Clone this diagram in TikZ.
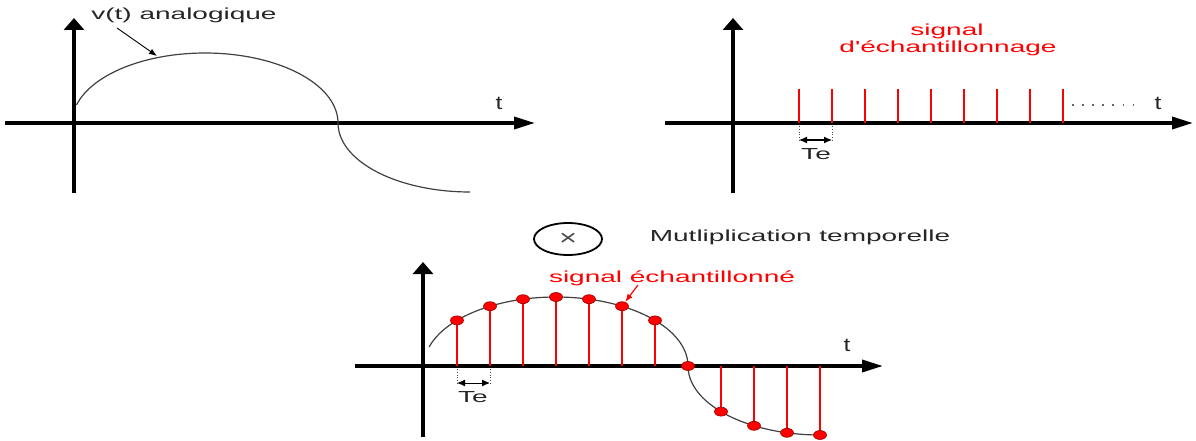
\documentclass[tikz,border=0pt]{standalone}
\usepackage{fontspec}
\setmainfont{Liberation Sans}
\usepackage{graphicx}
\usetikzlibrary{arrows.meta,shapes.geometric}
\newcommand{\sx}[1]{\scalebox{1.75}[1]{#1}}
\begin{document}
\begin{tikzpicture}[x=1pt,y=-1pt,
  axis/.style={line width=3.5pt, black},
  haxis/.style={axis,-{Triangle[length=21pt,width=12pt]}},
  vaxis/.style={axis,-{Triangle[length=12pt,width=20pt]}},
  curve/.style={line width=1.2pt, black!75},
  stem/.style={line width=1.8pt, red},
  sample/.style={ellipse, fill=red, draw=red!60!black, line width=0.6pt, minimum width=13pt, minimum height=9pt, inner sep=0pt},
  lbl/.style={font=\fontsize{16}{18}\selectfont, text=black!85, inner sep=0pt},
  tlbl/.style={font=\fontsize{19}{21}\selectfont, text=black!85, inner sep=0pt},
  rlbl/.style={lbl, text=red},
  guide/.style={dotted, line width=0.8pt, black!70},
  period/.style={{Latex[length=8pt,width=7pt]}-{Latex[length=8pt,width=7pt]}, line width=1pt},
  pointer/.style={-{Latex[length=8pt,width=6pt]}, line width=0.9pt}
  ]
\useasboundingbox (0,0) rectangle (1196,441);

% ---------- panel 1 : analog signal ----------
\draw[haxis] (5,123) -- (535,123);
\draw[vaxis] (74,193) -- (74,18);
\draw[curve] plot[domain=165:0,samples=80] ({205+133*cos(\x)},{123-70*sin(\x)})
  -- plot[domain=180:270,samples=50] ({470+132*cos(\x)},{123-69*sin(\x)});
\node[tlbl] (t1) at (499,103) {\scalebox{1.3}[1]{t}};
\node[lbl] (vlab) at (184,15) {\sx{v(t) analogique}};
\coordinate (vfrom) at (117,28);
\coordinate (vpt) at (157,56);
\draw[pointer] (vfrom) -- (vpt);

% ---------- panel 2 : sampling signal ----------
\draw[haxis] (665,123) -- (1193,123);
\draw[vaxis] (733,193) -- (733,18);
\foreach \k in {0,...,8} \draw[stem] ({799+33*\k},123) -- ({799+33*\k},89);
\draw[dash pattern=on 1.6pt off 8.5pt, line width=1.4pt, black!60] (1072,105) -- (1136,105);
\node[tlbl] (t2) at (1158,103) {\scalebox{1.3}[1]{t}};
\node[rlbl] (sig1) at (947,31) {\sx{signal}};
\node[rlbl] (sig2) at (948,48) {\sx{d\textquotesingle échantillonnage}};
\coordinate (a1) at (799,126); \coordinate (a1b) at (799,141);
\coordinate (a2) at (832,126); \coordinate (a2b) at (832,141);
\draw[guide] (a1) -- (a1b);
\draw[guide] (a2) -- (a2b);
\draw[period] (799,140) -- (832,140);
\node[lbl] (te1) at (816,154) {\sx{Te}};

% ---------- multiplication ----------
\node[ellipse, draw, line width=1.8pt, minimum width=68pt, minimum height=32pt, inner sep=0pt, font=\fontsize{22}{24}\selectfont, text=black!70] (mul) at (568,239) {\scalebox{1.4}[1]{×}};
\node[lbl] (multxt) at (800,237) {\sx{Mutliplication temporelle}};

% ---------- panel 3 : sampled signal ----------
\draw[haxis] (355,366) -- (883,366);
\draw[vaxis] (423,437) -- (423,262);
\draw[curve] plot[domain=164:0,samples=80] ({556+132*cos(\x)},{366-69*sin(\x)})
  -- plot[domain=180:270,samples=50] ({820+132*cos(\x)},{366-69*sin(\x)}) -- (824,435);
\foreach \i/\xx/\yy in {0/457/320.4,1/490/306.2,2/523/299.2,3/556/297,4/589/299.2,5/622/306.2,6/655/320.4,7/688/366,8/721/411.6,9/754/425.8,10/787/432.8,11/820/435}{
  \draw[stem] (\xx,366) -- (\xx,\yy);
  \node[sample] (s\i) at (\xx,\yy) {};
}
\node[tlbl] (t3) at (847,345) {\scalebox{1.3}[1]{t}};
\node[rlbl] (sig3) at (672,278) {\sx{signal échantillonné}};
\coordinate (sfrom) at (638,285);
\draw[pointer, red, line width=1.2pt] (sfrom) -- (s5);
\coordinate (b1) at (457,369); \coordinate (b1b) at (457,384);
\coordinate (b2) at (490,369); \coordinate (b2b) at (490,384);
\draw[guide] (b1) -- (b1b);
\draw[guide] (b2) -- (b2b);
\draw[period] (457,383) -- (490,383);
\node[lbl] (te2) at (473,397) {\sx{Te}};
\end{tikzpicture}
\end{document}
